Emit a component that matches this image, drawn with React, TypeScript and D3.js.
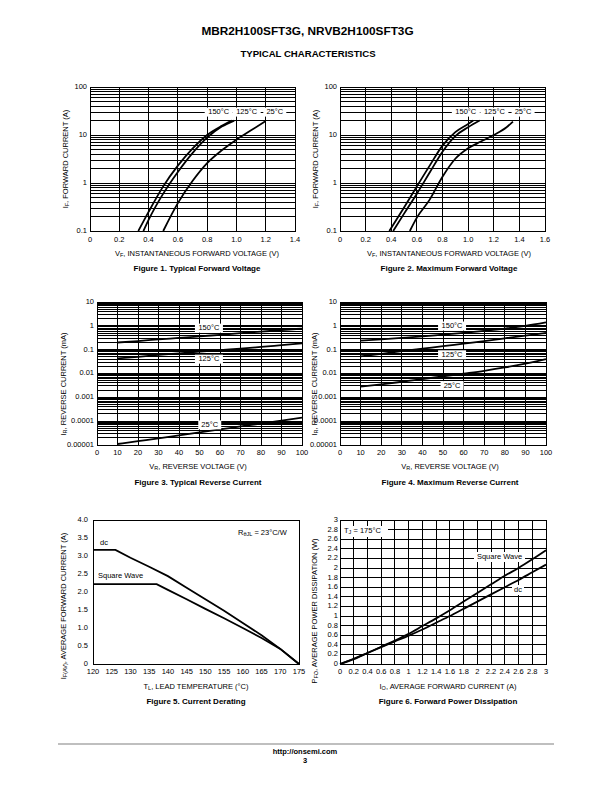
import * as d3 from "d3";

const FONT = "'Liberation Sans', Arial, Helvetica, sans-serif";
const INK = "#000";

type Pt = [number, number];

// ---- Figures 1 & 2: instantaneous forward voltage (V) vs forward current (A) ----
const VF_LABELS_TYP = ["0", "0.2", "0.4", "0.6", "0.8", "1.0", "1.2", "1.4"];
const VF_LABELS_MAX = ["0", "0.2", "0.4", "0.6", "0.8", "1.0", "1.2", "1.4", "1.6"];
const IF_LABELS = ["0.1", "1", "10", "100"];
const TEMP_NAMES = ["150°C", "125°C", "25°C"];

const VF_TYP_150: Pt[] = [[0.33, 0.1], [0.4, 0.25], [0.5, 0.85], [0.6, 2.3], [0.7, 5.2], [0.8, 10], [0.9, 15.5], [0.97, 20]];
const VF_TYP_125: Pt[] = [[0.365, 0.1], [0.4, 0.17], [0.5, 0.6], [0.6, 1.7], [0.7, 4.2], [0.8, 8.8], [0.9, 15], [0.985, 20]];
const VF_TYP_25: Pt[] = [[0.5, 0.1], [0.6, 0.38], [0.7, 1.1], [0.8, 2.6], [0.9, 4.8], [1.0, 8], [1.1, 12.5], [1.2, 19.5]];

const VF_MAX_150: Pt[] = [[0.385, 0.1], [0.5, 0.31], [0.6, 0.85], [0.7, 2.3], [0.8, 6.0], [0.9, 11.5], [1.0, 17], [1.04, 20]];
const VF_MAX_125: Pt[] = [[0.415, 0.1], [0.5, 0.23], [0.6, 0.6], [0.7, 1.65], [0.8, 4.5], [0.9, 9.5], [1.0, 14.5], [1.09, 20]];
const VF_MAX_25: Pt[] = [[0.545, 0.1], [0.6, 0.19], [0.7, 0.45], [0.8, 1.35], [0.9, 3.2], [1.0, 5.3], [1.1, 7.3], [1.2, 10], [1.3, 14.5], [1.35, 19]];

// ---- Figures 3 & 4: reverse voltage (V) vs reverse current (mA) ----
const VR_LABELS = ["0", "10", "20", "30", "40", "50", "60", "70", "80", "90", "100"];
const IR_LABELS = ["0.00001", "0.0001", "0.001", "0.01", "0.1", "1", "10"];
const VR_POINTS = [10, 20, 30, 40, 50, 60, 70, 80, 90, 100];

const IR_TYP_150 = [0.2, 0.23, 0.27, 0.31, 0.36, 0.42, 0.49, 0.57, 0.66, 0.77];
const IR_TYP_125 = [0.043, 0.05, 0.06, 0.07, 0.082, 0.096, 0.11, 0.13, 0.155, 0.185];
const IR_TYP_25 = [1.1e-5, 1.45e-5, 1.9e-5, 2.55e-5, 3.4e-5, 4.5e-5, 6e-5, 7.9e-5, 1.05e-4, 1.4e-4];

const IR_MAX_150 = [0.24, 0.27, 0.31, 0.36, 0.43, 0.51, 0.62, 0.77, 1.0, 1.4];
const IR_MAX_125 = [0.052, 0.067, 0.086, 0.11, 0.14, 0.18, 0.23, 0.3, 0.39, 0.5];
const IR_MAX_25 = [0.0028, 0.0035, 0.0045, 0.0058, 0.0076, 0.0099, 0.013, 0.018, 0.026, 0.04];

// ---- Figure 5: current derating ----
const TL_LABELS = ["120", "125", "130", "135", "140", "145", "150", "155", "160", "165", "170", "175"];
const IFAV_LABELS = ["0", "0.5", "1.0", "1.5", "2.0", "2.5", "3.0", "3.5", "4.0"];
const DERATE_DC: Pt[] = [[120, 3.17], [126, 3.17], [130, 2.95], [135, 2.7], [140, 2.44], [145, 2.12], [150, 1.8], [155, 1.48], [160, 1.14], [165, 0.8], [170, 0.42], [175, 0]];
const DERATE_SQ: Pt[] = [[120, 2.22], [137, 2.22], [140, 2.06], [145, 1.8], [150, 1.53], [155, 1.27], [160, 1.0], [165, 0.72], [170, 0.42], [175, 0]];

// ---- Figure 6: forward power dissipation ----
const IO_LABELS = ["0", "0.2", "0.4", "0.6", "0.8", "1", "1.2", "1.4", "1.6", "1.8", "2", "2.2", "2.4", "2.6", "2.8", "3"];
const PFO_LABELS = ["0", "0.2", "0.4", "0.6", "0.8", "1", "1.2", "1.4", "1.6", "1.8", "2", "2.2", "2.4", "2.6", "2.8", "3"];
const PWR_IO = [0, 0.2, 0.4, 0.6, 0.8, 1.0, 1.2, 1.4, 1.6, 1.8, 2.0, 2.2, 2.4, 2.6, 2.8, 3.0];
const PWR_SQ = [0, 0.1, 0.23, 0.36, 0.49, 0.63, 0.79, 0.95, 1.12, 1.3, 1.48, 1.66, 1.84, 2.0, 2.18, 2.37];
const PWR_DC = [0, 0.11, 0.23, 0.35, 0.47, 0.59, 0.72, 0.86, 1.0, 1.15, 1.3, 1.45, 1.6, 1.75, 1.91, 2.07];

const zip = (xs: number[], ys: number[]): Pt[] => xs.map((v, i) => [v, ys[i]]);

function T({ x, y, size = 7.5, anchor = "middle", bold = false, children }: any) {
  return (
    <text x={x} y={y} fontFamily={FONT} fontSize={size} textAnchor={anchor} fontWeight={bold ? "bold" : "normal"} dominantBaseline="middle" fill={INK}>
      {children}
    </text>
  );
}

// text with one subscripted part, optionally rotated
function SubT({ x, y, main, sub, rest, rotate = false, anchor = "middle" }: any) {
  return (
    <text x={x} y={y} fontFamily={FONT} fontSize={7.5} textAnchor={anchor} dominantBaseline="middle" fill={INK}
      transform={rotate ? `rotate(-90 ${x} ${y})` : undefined}>
      <tspan>{main}</tspan>
      <tspan fontSize={5.5} dy={2}>{sub}</tspan>
      <tspan dy={-2}>{rest}</tspan>
    </text>
  );
}

function Tag({ x, y, text }: { x: number; y: number; text: string }) {
  const w = text.length * 5 + 3;
  return (
    <g>
      <rect x={x - w / 2} y={y - 4.5} width={w} height={9} fill="#fff" />
      <T x={x} y={y + 0.3}>{text}</T>
    </g>
  );
}

function Grid({ xs, ys, l, r, t, b }: any) {
  return (
    <g shapeRendering="crispEdges" stroke={INK} strokeWidth={1}>
      {ys.map((v: number, i: number) => <line key={"h" + i} x1={l} x2={r} y1={v} y2={v} />)}
      {xs.map((v: number, i: number) => <line key={"v" + i} x1={v} x2={v} y1={t} y2={b} />)}
    </g>
  );
}

function Frame({ l, r, t, b }: any) {
  return <rect x={l} y={t} width={r - l} height={b - t} fill="none" stroke={INK} strokeWidth={1} shapeRendering="crispEdges" />;
}

function ForwardPlot({ box, xLabels, curves, tagV, caption, cx }: any) {
  const [l, t, r, b] = box;
  const xVals = xLabels.map(Number);
  const x = d3.scaleLinear().domain([0, xVals[xVals.length - 1]]).range([l, r]);
  const y = d3.scaleLog().domain([0.1, 100]).range([b, t]);
  const line = d3.line<Pt>().x((d) => x(d[0])).y((d) => y(d[1])).curve(d3.curveMonotoneX);
  return (
    <g>
      <Grid xs={xVals.map(x)} ys={y.ticks().map(y)} l={l} r={r} t={t} b={b} />
      {TEMP_NAMES.map((n, i) => <Tag key={n} x={x(tagV[i])} y={y(30)} text={n} />)}
      {curves.map((c: Pt[], i: number) => <path key={i} d={line(c) ?? ""} fill="none" stroke={INK} strokeWidth={1.8} />)}
      <Frame l={l} r={r} t={t} b={b} />
      {IF_LABELS.map((s) => <T key={s} x={l - 3} y={y(Number(s))} anchor="end">{s}</T>)}
      {xLabels.map((s: string) => <T key={s} x={x(Number(s))} y={b + 9}>{s}</T>)}
      <SubT x={l - 24} y={(t + b) / 2} main="I" sub="F" rest=", FORWARD CURRENT (A)" rotate />
      <SubT x={cx} y={b + 23} main="V" sub="F" rest=", INSTANTANEOUS FORWARD VOLTAGE (V)" />
      <T x={cx} y={b + 38} size={8} bold>{caption}</T>
    </g>
  );
}

function ReversePlot({ box, curves, tags, caption, cx, titleX }: any) {
  const [l, t, r, b] = box;
  const x = d3.scaleLinear().domain([0, 100]).range([l, r]);
  const y = d3.scaleLog().domain([1e-5, 10]).range([b, t]);
  const line = d3.line<Pt>().x((d) => x(d[0])).y((d) => y(d[1])).curve(d3.curveMonotoneX);
  return (
    <g>
      <Grid xs={VR_LABELS.map((s) => x(Number(s)))} ys={y.ticks().map(y)} l={l} r={r} t={t} b={b} />
      {curves.map((c: number[], i: number) => <path key={i} d={line(zip(VR_POINTS, c)) ?? ""} fill="none" stroke={INK} strokeWidth={1.8} />)}
      {TEMP_NAMES.map((n, i) => <Tag key={n} x={x(tags[i][0])} y={y(tags[i][1])} text={n} />)}
      <Frame l={l} r={r} t={t} b={b} />
      {IR_LABELS.map((s) => <T key={s} x={l - 3} y={y(Number(s))} anchor="end">{s}</T>)}
      {VR_LABELS.map((s) => <T key={s} x={x(Number(s))} y={b + 8}>{s}</T>)}
      <SubT x={titleX} y={t + 82} main="I" sub="R" rest=", REVERSE CURRENT (mA)" rotate />
      <SubT x={cx} y={b + 22} main="V" sub="R" rest=", REVERSE VOLTAGE (V)" />
      <T x={cx} y={b + 38} size={8} bold>{caption}</T>
    </g>
  );
}

function DeratingPlot() {
  const [l, t, r, b] = [93, 520, 299, 664];
  const x = d3.scaleLinear().domain([120, 175]).range([l, r]);
  const y = d3.scaleLinear().domain([0, 4]).range([b, t]);
  const line = d3.line<Pt>().x((d) => x(d[0])).y((d) => y(d[1]));
  const cx = 196;
  return (
    <g>
      <Frame l={l} r={r} t={t} b={b} />
      <path d={line(DERATE_DC) ?? ""} fill="none" stroke={INK} strokeWidth={1.8} />
      <path d={line(DERATE_SQ) ?? ""} fill="none" stroke={INK} strokeWidth={1.8} />
      <T x={100} y={543} anchor="start">dc</T>
      <T x={98} y={576.5} anchor="start">Square Wave</T>
      <SubT x={238} y={533} main="R" sub="θJL" rest=" = 23°C/W" anchor="start" />
      {IFAV_LABELS.map((s) => <T key={s} x={l - 5} y={y(Number(s))} anchor="end">{s}</T>)}
      {TL_LABELS.map((s) => <T key={s} x={x(Number(s))} y={b + 8}>{s}</T>)}
      <SubT x={64} y={606} main="I" sub="F(AV)" rest=", AVERAGE FORWARD CURRENT (A)" rotate />
      <SubT x={cx} y={b + 23} main="T" sub="L" rest=", LEAD TEMPERATURE (°C)" />
      <T x={cx} y={b + 38} size={8} bold>Figure 5. Current Derating</T>
    </g>
  );
}

function PowerPlot() {
  const [l, t, r, b] = [340, 520, 546, 664];
  const x = d3.scaleLinear().domain([0, 3]).range([l, r]);
  const y = d3.scaleLinear().domain([0, 3]).range([b, t]);
  const line = d3.line<Pt>().x((d) => x(d[0])).y((d) => y(d[1])).curve(d3.curveMonotoneX);
  const cx = 448;
  return (
    <g>
      <Grid xs={IO_LABELS.map((s) => x(Number(s)))} ys={PFO_LABELS.map((s) => y(Number(s)))} l={l} r={r} t={t} b={b} />
      <path d={line(zip(PWR_IO, PWR_SQ)) ?? ""} fill="none" stroke={INK} strokeWidth={1.8} />
      <path d={line(zip(PWR_IO, PWR_DC)) ?? ""} fill="none" stroke={INK} strokeWidth={1.8} />
      <rect x={341} y={526} width={47} height={11} fill="#fff" />
      <SubT x={344} y={531} main="T" sub="J" rest=" = 175°C" anchor="start" />
      <rect x={474} y={552} width={51} height={10} fill="#fff" />
      <T x={499.5} y={557}>Square Wave</T>
      <rect x={512} y={585} width={12} height={10} fill="#fff" />
      <T x={518} y={590}>dc</T>
      <Frame l={l} r={r} t={t} b={b} />
      {PFO_LABELS.map((s) => <T key={s} x={l - 2} y={y(Number(s))} anchor="end">{s}</T>)}
      {IO_LABELS.map((s) => <T key={s} x={x(Number(s))} y={b + 8}>{s}</T>)}
      <SubT x={315} y={611} main="P" sub="FO" rest=", AVERAGE POWER DISSIPATION (W)" rotate />
      <SubT x={cx} y={b + 23} main="I" sub="O" rest=", AVERAGE FORWARD CURRENT (A)" />
      <T x={cx} y={b + 38} size={8} bold>Figure 6. Forward Power Dissipation</T>
    </g>
  );
}

export default function App() {
  return (
    <svg width={612} height={792} viewBox="0 0 612 792" style={{ position: "absolute", left: 0, top: 0, background: "#fff" }}>
      <rect width={612} height={792} fill="#fff" />
      <T x={307.5} y={31.5} size={11.8} bold>MBR2H100SFT3G, NRVB2H100SFT3G</T>
      <T x={308} y={54} size={9.6} bold>TYPICAL CHARACTERISTICS</T>

      <ForwardPlot box={[90, 87, 295, 231]} xLabels={VF_LABELS_TYP} curves={[VF_TYP_150, VF_TYP_125, VF_TYP_25]}
        tagV={[0.879, 1.07, 1.262]} caption="Figure 1. Typical Forward Voltage" cx={197} />
      <ForwardPlot box={[340, 87, 545, 231]} xLabels={VF_LABELS_MAX} curves={[VF_MAX_150, VF_MAX_125, VF_MAX_25]}
        tagV={[0.982, 1.205, 1.429]} caption="Figure 2. Maximum Forward Voltage" cx={449} />

      <ReversePlot box={[97, 302, 302, 445]} curves={[IR_TYP_150, IR_TYP_125, IR_TYP_25]}
        tags={[[54.6, 0.8], [54.6, 0.04], [55, 0.00007]]} caption="Figure 3. Typical Reverse Current" cx={198} titleX={64} />
      <ReversePlot box={[340, 302, 546, 445]} curves={[IR_MAX_150, IR_MAX_125, IR_MAX_25]}
        tags={[[54.4, 0.98], [54.4, 0.061], [54.4, 0.0031]]} caption="Figure 4. Maximum Reverse Current" cx={450} titleX={315} />

      <DeratingPlot />
      <PowerPlot />

      <line x1={58} x2={554} y1={744} y2={744} stroke="#aaa" strokeWidth={1.5} />
      <T x={305} y={752} size={7.5} bold>http://onsemi.com</T>
      <T x={305} y={761} size={7.5} bold>3</T>
    </svg>
  );
}
